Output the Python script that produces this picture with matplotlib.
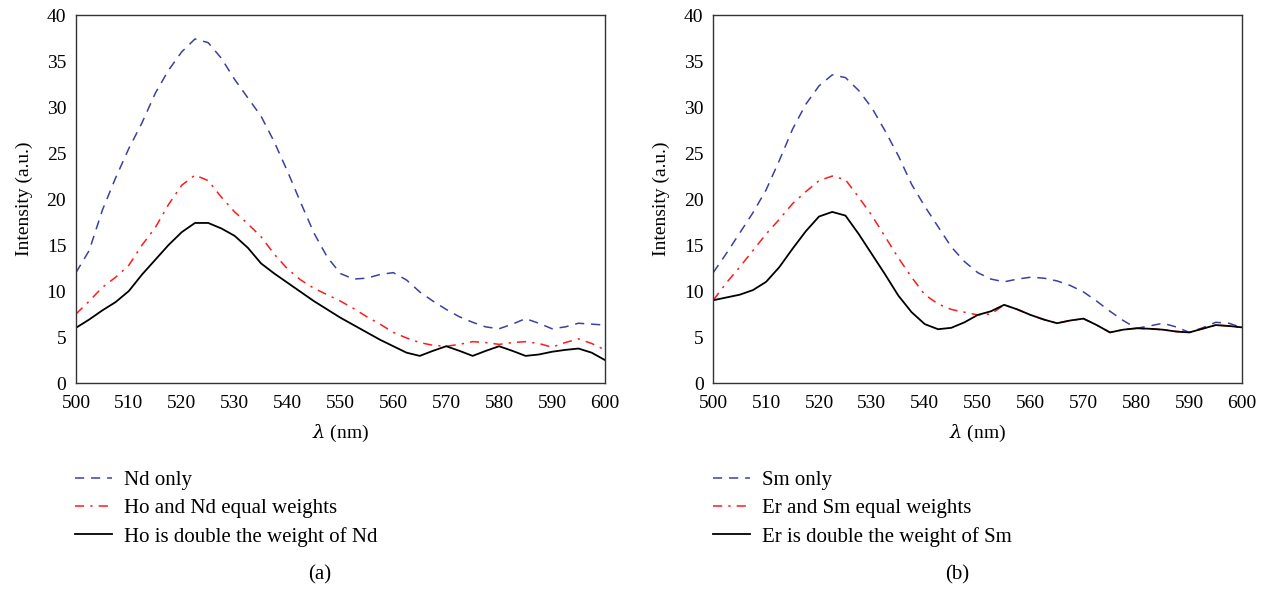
import matplotlib
matplotlib.use("Agg")
import matplotlib.pyplot as plt

# ---------------- data ----------------
wavelength = [500 + 2.5 * i for i in range(41)]

nd_only = [12.0, 14.4, 18.8, 22.3, 25.5, 28.3, 31.5, 34.0, 36.0, 37.4,
           37.0, 35.3, 33.0, 31.0, 29.0, 26.2, 23.0, 19.6, 16.3, 13.7,
           11.9, 11.3, 11.4, 11.8, 12.0, 11.2, 9.9, 8.9, 8.0, 7.2,
           6.6, 6.1, 5.9, 6.4, 7.0, 6.5, 5.9, 6.1, 6.5, 6.4, 6.3]
ho_nd_equal = [7.5, 8.9, 10.4, 11.5, 12.8, 15.0, 16.9, 19.4, 21.5, 22.6,
               22.0, 20.2, 18.6, 17.3, 15.9, 14.0, 12.4, 11.2, 10.3, 9.6,
               8.9, 8.1, 7.2, 6.4, 5.5, 4.9, 4.4, 4.1, 4.0, 4.2,
               4.5, 4.4, 4.2, 4.4, 4.5, 4.3, 3.9, 4.4, 4.8, 4.3, 3.6]
ho_double_nd = [6.0, 6.9, 7.9, 8.8, 10.0, 11.8, 13.4, 15.0, 16.4, 17.4,
                17.4, 16.8, 16.0, 14.7, 13.0, 11.9, 10.9, 9.9, 8.9, 8.0,
                7.1, 6.3, 5.5, 4.7, 4.0, 3.3, 2.95, 3.5, 4.0, 3.5,
                2.95, 3.5, 4.0, 3.5, 2.95, 3.1, 3.4, 3.6, 3.75, 3.3, 2.5]

sm_only = [12.0, 14.1, 16.3, 18.5, 21.0, 24.2, 27.6, 30.3, 32.3, 33.5,
           33.2, 31.8, 29.9, 27.4, 24.7, 21.6, 19.2, 17.0, 14.8, 13.2,
           12.0, 11.3, 11.0, 11.3, 11.5, 11.4, 11.1, 10.6, 9.9, 8.9,
           7.8, 6.8, 5.95, 6.2, 6.5, 6.1, 5.5, 6.0, 6.6, 6.5, 6.0]
er_sm_equal = [9.0, 10.9, 12.6, 14.4, 16.2, 17.8, 19.5, 20.8, 22.0, 22.5,
               22.1, 20.2, 18.2, 15.9, 13.6, 11.5, 9.6, 8.6, 8.0, 7.7,
               7.4, 7.5, 8.5, 8.0, 7.4, 6.9, 6.5, 6.8, 7.0, 6.3,
               5.5, 5.8, 5.95, 5.9, 5.8, 5.6, 5.5, 5.9, 6.3, 6.2, 6.05]
er_double_sm = [9.0, 9.3, 9.6, 10.1, 11.0, 12.6, 14.6, 16.5, 18.1, 18.6,
                18.2, 16.2, 14.0, 11.8, 9.5, 7.7, 6.4, 5.85, 6.0, 6.6,
                7.4, 7.8, 8.5, 8.0, 7.4, 6.9, 6.5, 6.8, 7.0, 6.3,
                5.5, 5.8, 5.95, 5.9, 5.8, 5.6, 5.5, 5.9, 6.3, 6.2, 6.05]

labels_a = ["Nd only", "Ho and Nd equal weights", "Ho is double the weight of Nd"]
labels_b = ["Sm only", "Er and Sm equal weights", "Er is double the weight of Sm"]
panel_tags = ["(a)", "(b)"]

x_ticks = [500, 510, 520, 530, 540, 550, 560, 570, 580, 590, 600]
y_ticks = [0, 5, 10, 15, 20, 25, 30, 35, 40]

# ---------------- style ----------------
plt.rcParams['font.family'] = ['Liberation Serif', 'DejaVu Serif']
plt.rcParams['mathtext.fontset'] = 'dejavuserif'
FS = 14
LFS = 15
BLUE = '#3c40a0'
RED = '#ff1a1a'

fig = plt.figure(figsize=(12.7, 5.9), dpi=100)

panels = [
    (0.0598, 0.0590, [nd_only, ho_nd_equal, ho_double_nd], labels_a, panel_tags[0], 0.252),
    (0.5616, 0.5614, [sm_only, er_sm_equal, er_double_sm], labels_b, panel_tags[1], 0.754),
]

for left, legx, series, labels, tag, tagx in panels:
    ax = fig.add_axes([left, 0.3508, 0.4165, 0.6237])
    l1, = ax.plot(wavelength, series[0], color=BLUE, lw=1.1,
                  dashes=(6, 4.5))
    l2, = ax.plot(wavelength, series[1], color=RED, lw=1.1,
                  dashes=(6, 4, 1.5, 4))
    l3, = ax.plot(wavelength, series[2], color='black', lw=1.3)
    ax.set_xlim(500, 600)
    ax.set_ylim(0, 40)
    ax.set_xticks(x_ticks)
    ax.set_yticks(y_ticks)
    ax.tick_params(length=0, labelsize=FS)
    ax.tick_params(axis='x', pad=8.5)
    ax.tick_params(axis='y', pad=7)
    for s in ax.spines.values():
        s.set_color('#333333')
        s.set_linewidth(1.0)
    ax.set_xlabel(r'$\lambda$ (nm)', fontsize=FS, labelpad=8)
    ax.set_ylabel('Intensity (a.u.)', fontsize=FS, labelpad=10)
    fig.legend([l1, l2, l3], labels, loc='upper left',
               bbox_to_anchor=(legx, 0.2025), frameon=False,
               fontsize=LFS, handlelength=1.8, handletextpad=0.55,
               labelspacing=0.41, borderaxespad=0, borderpad=0)
    fig.text(tagx, 0.025, tag, fontsize=15, ha='center', va='center')

fig.savefig('out.png', dpi=100)
